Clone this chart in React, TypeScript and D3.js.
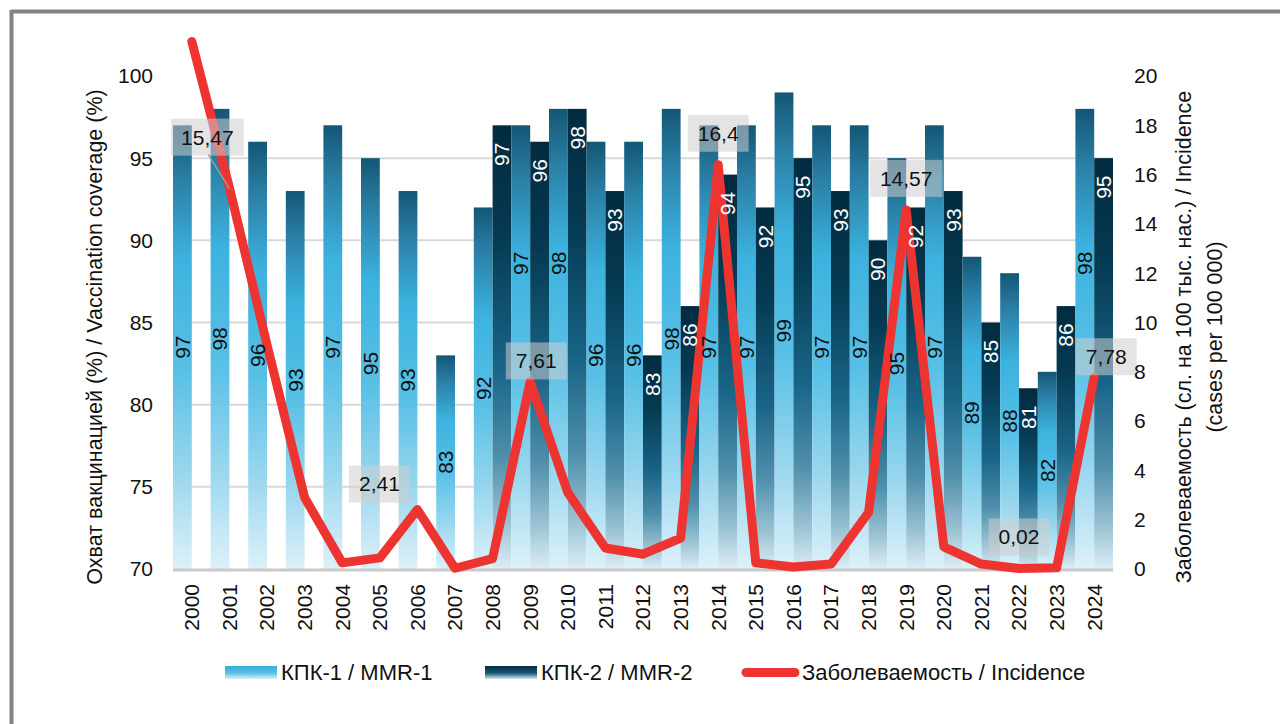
import React from "react";
import * as d3 from "d3";

const years = ["2000","2001","2002","2003","2004","2005","2006","2007","2008","2009","2010","2011","2012","2013","2014","2015","2016","2017","2018","2019","2020","2021","2022","2023","2024"];
const mmr1: number[] = [97,98,96,93,97,95,93,83,92,97,98,96,96,98,97,97,99,97,97,95,97,89,88,82,98];
const mmr2: (number | null)[] = [null,null,null,null,null,null,null,null,97,96,98,93,83,86,94,92,95,93,90,92,93,85,81,86,95];
const incidence: number[] = [21.4,15.47,9.1,2.9,0.25,0.45,2.41,0.03,0.42,7.61,3.1,0.85,0.6,1.25,16.4,0.25,0.08,0.2,2.3,14.57,0.9,0.2,0.02,0.05,7.78];
const leftTicks = [70,75,80,85,90,95,100];
const rightTicks = [0,2,4,6,8,10,12,14,16,18,20];
const gridValues = [75,80,85,90,95];

const seriesNames = ["КПК-1 / MMR-1", "КПК-2 / MMR-2", "Заболеваемость / Incidence"];
const leftTitle = "Охват вакцинацией (%) / Vaccination coverage (%)";
const rightTitle1 = "Заболеваемость (сл. на 100 тыс. нас.) / Incidence";
const rightTitle2 = "(cases per 100 000)";

// annotation layout (label placement tweaks for the incidence labels)
const annotations: Record<string, { dx: number; dy: number; leader?: boolean }> = {
  "2001": { dx: -22, dy: -19, leader: true },
  "2006": { dx: -38, dy: 6 },
  "2009": { dx: 6, dy: 11 },
  "2014": { dx: 0, dy: 0 },
  "2019": { dx: 0, dy: 0 },
  "2022": { dx: 0, dy: 0 },
  "2024": { dx: 12, dy: 11 },
};
// KPK-1 labels lifted to avoid the annotation boxes
const raisedLabels = ["2009", "2010", "2024"];
const raisedLabelValue = 88.6;

const FONT = "'Liberation Sans', Arial, Helvetica, sans-serif";
const RED = "#ee3430";

const fmt = (v: number) => String(v).replace(".", ",");
const textW = (s: string) =>
  s.split("").reduce((a, c) => a + (c === "," ? 0.278 : 0.556), 0) * 21;

export default function App() {
  const x = d3.scaleBand<string>().domain(years).range([173, 1113]).padding(0);
  const x1 = d3.scaleBand<string>().domain(["a", "b"]).range([0, x.bandwidth()]).padding(0);
  const yL = d3.scaleLinear().domain([70, 100]).range([569, 76]);
  const yR = d3.scaleLinear().domain([0, 20]).range([569, 76]);
  const cx = (yr: string) => (x(yr) as number) + x.bandwidth() / 2;

  const line = d3
    .line<number>()
    .x((_, i) => cx(years[i]))
    .y((d) => yR(d));

  const bw = x1.bandwidth();

  return (
    <svg
      width={1280}
      height={724}
      style={{ position: "absolute", left: 0, top: 0, background: "#fff" }}
      fontFamily={FONT}
    >
      <defs>
        <linearGradient id="g1" x1="0" y1="0" x2="0" y2="1">
          <stop offset="0" stopColor="#145675" />
          <stop offset="0.12" stopColor="#2a7fa5" />
          <stop offset="0.3" stopColor="#3cb2df" />
          <stop offset="0.55" stopColor="#58c0e6" />
          <stop offset="0.78" stopColor="#98d6ee" />
          <stop offset="1" stopColor="#ddf1f9" />
        </linearGradient>
        <linearGradient id="g2" x1="0" y1="0" x2="0" y2="1">
          <stop offset="0" stopColor="#022b3f" />
          <stop offset="0.25" stopColor="#053a52" />
          <stop offset="0.55" stopColor="#196588" />
          <stop offset="0.75" stopColor="#4f8fab" />
          <stop offset="0.9" stopColor="#9cc4d4" />
          <stop offset="1" stopColor="#dcedf5" />
        </linearGradient>
        <linearGradient id="lg1" x1="0" y1="0" x2="0" y2="1">
          <stop offset="0" stopColor="#39acd9" />
          <stop offset="0.55" stopColor="#5cc0e6" />
          <stop offset="1" stopColor="#dcf1fa" />
        </linearGradient>
        <linearGradient id="lg2" x1="0" y1="0" x2="0" y2="1">
          <stop offset="0" stopColor="#022c41" />
          <stop offset="0.55" stopColor="#1c5a76" />
          <stop offset="1" stopColor="#d3e7ef" />
        </linearGradient>
      </defs>

      {/* frame */}
      <line x1={11} y1={11.5} x2={1280} y2={11.5} stroke="#808184" strokeWidth={4} />
      <line x1={11.5} y1={10} x2={11.5} y2={724} stroke="#808184" strokeWidth={4} />

      {/* gridlines */}
      {gridValues.map((v) => (
        <line key={v} x1={173} x2={1113} y1={yL(v)} y2={yL(v)} stroke="#d9d9d9" strokeWidth={2} />
      ))}

      {/* bars */}
      {years.map((yr, i) => {
        const x0 = x(yr) as number;
        const v1 = mmr1[i];
        const v2 = mmr2[i];
        return (
          <g key={yr}>
            <rect x={x0 + (x1("a") as number)} y={yL(v1)} width={bw} height={yL(70) - yL(v1)} fill="url(#g1)" />
            {v2 != null && (
              <rect x={x0 + (x1("b") as number)} y={yL(v2)} width={bw} height={yL(70) - yL(v2)} fill="url(#g2)" />
            )}
          </g>
        );
      })}

      {/* baseline */}
      <line x1={173} x2={1113} y1={570} y2={570} stroke="#cacaca" strokeWidth={3} />

      {/* incidence line */}
      <path
        d={line(incidence) as string}
        fill="none"
        stroke={RED}
        strokeWidth={9}
        strokeLinejoin="round"
        strokeLinecap="round"
      />

      {/* bar labels */}
      {years.map((yr, i) => {
        const x0 = x(yr) as number;
        const v1 = mmr1[i];
        const v2 = mmr2[i];
        const c1 = x0 + (x1("a") as number) + bw / 2;
        const c2 = x0 + (x1("b") as number) + bw / 2;
        const y1c = raisedLabels.includes(yr) ? yL(raisedLabelValue) : (yL(v1) + yL(70)) / 2;
        return (
          <g key={"l" + yr} fontSize={21}>
            <text transform={`translate(${c1},${y1c}) rotate(-90)`} textAnchor="middle" dy="0.35em" fill="#111">
              {v1}
            </text>
            {v2 != null && (
              <text transform={`translate(${c2},${yL(v2) + 29}) rotate(-90)`} textAnchor="middle" dy="0.35em" fill="#fff">
                {v2}
              </text>
            )}
          </g>
        );
      })}

      {/* incidence annotations */}
      {years.map((yr, i) => {
        const a = annotations[yr];
        if (!a) return null;
        const v = incidence[i];
        const s = fmt(v);
        const w = textW(s) + 20;
        const h = 37;
        const px = cx(yr);
        const py = yR(v);
        const bx = px + a.dx - w / 2;
        const by = py - 13 - h + a.dy;
        return (
          <g key={"a" + yr}>
            <rect x={bx} y={by} width={w} height={h} fill="rgb(205,205,205)" fillOpacity={0.55} />
            <text x={bx + w / 2} y={by + h / 2} dy="0.35em" textAnchor="middle" fontSize={21} fill="#111">
              {s}
            </text>
            {a.leader && (
              <line x1={bx + w / 2 + 1} y1={by + h - 1} x2={px} y2={py + 1} stroke="#9a9a9a" strokeWidth={1.5} />
            )}
          </g>
        );
      })}

      {/* left axis ticks */}
      {leftTicks.map((t) => (
        <text key={"lt" + t} x={153} y={yL(t)} dy="0.35em" textAnchor="end" fontSize={21} fill="#111">
          {t}
        </text>
      ))}
      {/* right axis ticks */}
      {rightTicks.map((t) => (
        <text key={"rt" + t} x={1134} y={yR(t)} dy="0.35em" textAnchor="start" fontSize={21} fill="#111">
          {t}
        </text>
      ))}
      {/* x labels */}
      {years.map((yr) => (
        <text
          key={"x" + yr}
          transform={`translate(${cx(yr)},584) rotate(-90)`}
          dy="0.35em"
          textAnchor="end"
          fontSize={21}
          fill="#111"
        >
          {yr}
        </text>
      ))}

      {/* axis titles */}
      <text transform="translate(102,337) rotate(-90)" textAnchor="middle" fontSize={21.5} fill="#111">
        {leftTitle}
      </text>
      <text transform="translate(1191,337) rotate(-90)" textAnchor="middle" fontSize={21.5} fill="#111">
        {rightTitle1}
      </text>
      <text transform="translate(1222,337) rotate(-90)" textAnchor="middle" fontSize={21.5} fill="#111">
        {rightTitle2}
      </text>

      {/* legend */}
      <rect x={225} y={666} width={52} height={13} fill="url(#lg1)" />
      <text x={281} y={680} fontSize={22} fill="#111">{seriesNames[0]}</text>
      <rect x={485} y={666} width={52} height={13} fill="url(#lg2)" />
      <text x={541} y={680} fontSize={22} fill="#111">{seriesNames[1]}</text>
      <line x1={746} x2={795} y1={672.5} y2={672.5} stroke={RED} strokeWidth={9} strokeLinecap="round" />
      <text x={802} y={680} fontSize={22} fill="#111">{seriesNames[2]}</text>
    </svg>
  );
}
